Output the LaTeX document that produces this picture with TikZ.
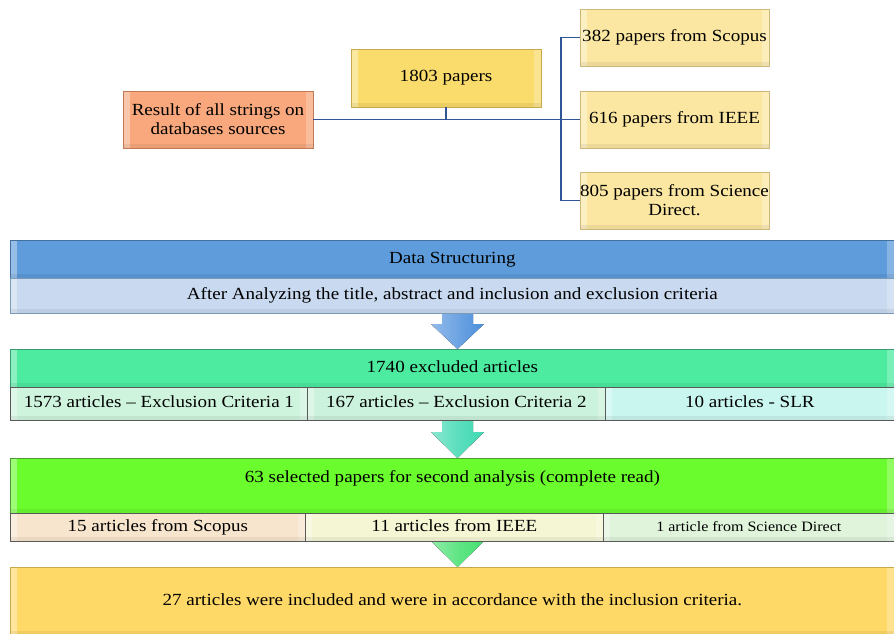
\documentclass[tikz,border=0pt]{standalone}
\usepackage{fontspec}
\setmainfont[FakeStretch=1.12]{Liberation Serif}
\definecolor{orangeF}{HTML}{F8A87C}
\definecolor{orangeD}{HTML}{C07A55}
\definecolor{yelF}{HTML}{FADC6C}
\definecolor{yelD}{HTML}{C9A94E}
\definecolor{srcF}{HTML}{FBE7A2}
\definecolor{srcD}{HTML}{CDB77A}
\definecolor{lineB}{HTML}{2F5597}
\definecolor{blueF}{HTML}{5E9CDB}
\definecolor{blueD}{HTML}{41719C}
\definecolor{lblueF}{HTML}{C8D9F0}
\definecolor{grnF}{HTML}{4DEBA0}
\definecolor{grnD}{HTML}{3A9A70}
\definecolor{sgA}{HTML}{CFF4DE}
\definecolor{sgB}{HTML}{CBF2DC}
\definecolor{sgC}{HTML}{C9F6EF}
\definecolor{limeF}{HTML}{6BFC2E}
\definecolor{limeD}{HTML}{4E9A36}
\definecolor{slA}{HTML}{F8E5CD}
\definecolor{slB}{HTML}{F5F7D4}
\definecolor{slC}{HTML}{DFF4DB}
\definecolor{botF}{HTML}{FFD968}
\definecolor{botD}{HTML}{C9A84A}
\definecolor{arB}{HTML}{4A8EDB}
\definecolor{arT}{HTML}{3FD9B2}
\definecolor{arG}{HTML}{45E070}
\tikzset{
  bevel/.style={path picture={
    \fill[white, opacity=0.35] (path picture bounding box.south west) rectangle ([xshift=7pt]path picture bounding box.north west);
    \fill[white, opacity=0.25] ([xshift=-7pt]path picture bounding box.south east) rectangle (path picture bounding box.north east);
    \fill[black, opacity=0.06] (path picture bounding box.south west) rectangle ([yshift=4pt]path picture bounding box.south east);
  }},
  box/.style={draw, line width=0.8pt, inner sep=0pt, align=center, anchor=center, bevel,
    font=\fontsize{17}{19}\selectfont, text=black},
  bar/.style={draw=gray!70!black, line width=0.7pt, inner sep=0pt, anchor=north west, align=center, bevel,
    font=\fontsize{17}{19}\selectfont, text=black, text height=11.5pt, text depth=3.5pt},
  conn/.style={draw=lineB, line width=1.1pt}
}
\begin{document}
\begin{tikzpicture}[x=1pt,y=-1pt]
\useasboundingbox (0,0) rectangle (894,634);
% block arrows (behind bars)
\fill[left color=arB!60, right color=arB, middle color=arB!80!white] (442,305) -- (473,305) -- (473,324) -- (484,324) -- (457.5,349) -- (431,324) -- (442,324) -- cycle;
\fill[left color=arT!60, right color=arT, middle color=arT!85!white] (442,412) -- (473,412) -- (473,432) -- (484,432) -- (457.5,458) -- (431,432) -- (442,432) -- cycle;
\fill[left color=arG!60, right color=arG, middle color=arG!85!white] (442,535) -- (473,535) -- (473,541) -- (484,541) -- (457.5,567) -- (431,541) -- (442,541) -- cycle;
% top part
\node[box, fill=orangeF, draw=orangeD, minimum width=190pt, minimum height=57pt] (res) at (218,119.5) {Result of all strings on\\databases sources};
\node[box, fill=yelF, draw=yelD, minimum width=190pt, minimum height=58pt] (tot) at (446,78) {1803 papers};
\node[box, fill=srcF, draw=srcD, minimum width=189pt, minimum height=57pt] (sco) at (674.5,37.5) {382 papers from Scopus};
\node[box, fill=srcF, draw=srcD, minimum width=189pt, minimum height=57pt] (iee) at (674.5,119.5) {616 papers from IEEE};
\node[box, fill=srcF, draw=srcD, minimum width=189pt, minimum height=57pt] (sci) at (674.5,200.5) {805 papers from Science\\Direct.};
\coordinate (jn) at (446,119.5);
\coordinate (vb) at (561,119.5);
\coordinate (vt) at (561,37.5);
\coordinate (vbot) at (561,200.5);
\draw[conn] (res.east) -- (jn) -- (vb);
\draw[conn] (tot.south) -- (jn);
\draw[conn] (vt) -- (vbot);
\draw[conn] (vt) -- (sco.west);
\draw[conn] (vb) -- (iee.west);
\draw[conn] (vbot) -- (sci.west);
% data structuring
\node[bar, fill=blueF, draw=blueD, minimum width=884pt, minimum height=38pt] (ds) at (10,240) {Data Structuring};
\node[bar, fill=lblueF, draw=blueD!70, minimum width=884pt, minimum height=35pt] (aa) at (10,278) {After Analyzing the title, abstract and inclusion and exclusion criteria};
% excluded
\node[bar, fill=grnF, draw=grnD, minimum width=884pt, minimum height=38pt] (ex) at (10,349) {1740 excluded articles};
\node[bar, fill=sgA, minimum width=297pt, minimum height=33pt] (e1) at (10,387) {1573 articles – Exclusion Criteria 1};
\node[bar, fill=sgB, minimum width=298pt, minimum height=33pt] (e2) at (307,387) {167 articles – Exclusion Criteria 2};
\node[bar, fill=sgC, minimum width=289pt, minimum height=33pt] (e3) at (605,387) {10 articles - SLR};
% selected
\node[bar, fill=limeF, draw=limeD, minimum width=884pt, minimum height=55pt, text height=12pt, text depth=19pt] (se) at (10,458) {63 selected papers for second analysis (complete read)};
\node[bar, fill=slA, minimum width=295pt, minimum height=28pt] (s1) at (10,513) {15 articles from Scopus};
\node[bar, fill=slB, minimum width=298pt, minimum height=28pt] (s2) at (305,513) {11 articles from IEEE};
\node[bar, fill=slC, minimum width=291pt, minimum height=28pt, font=\fontsize{14.3}{16}\selectfont] (s3) at (603,513) {1 article from Science Direct};
% included
\node[bar, fill=botF, draw=botD, minimum width=884pt, minimum height=68pt] (inc) at (10,567) {27 articles were included and were in accordance with the inclusion criteria.};
\end{tikzpicture}
\end{document}
